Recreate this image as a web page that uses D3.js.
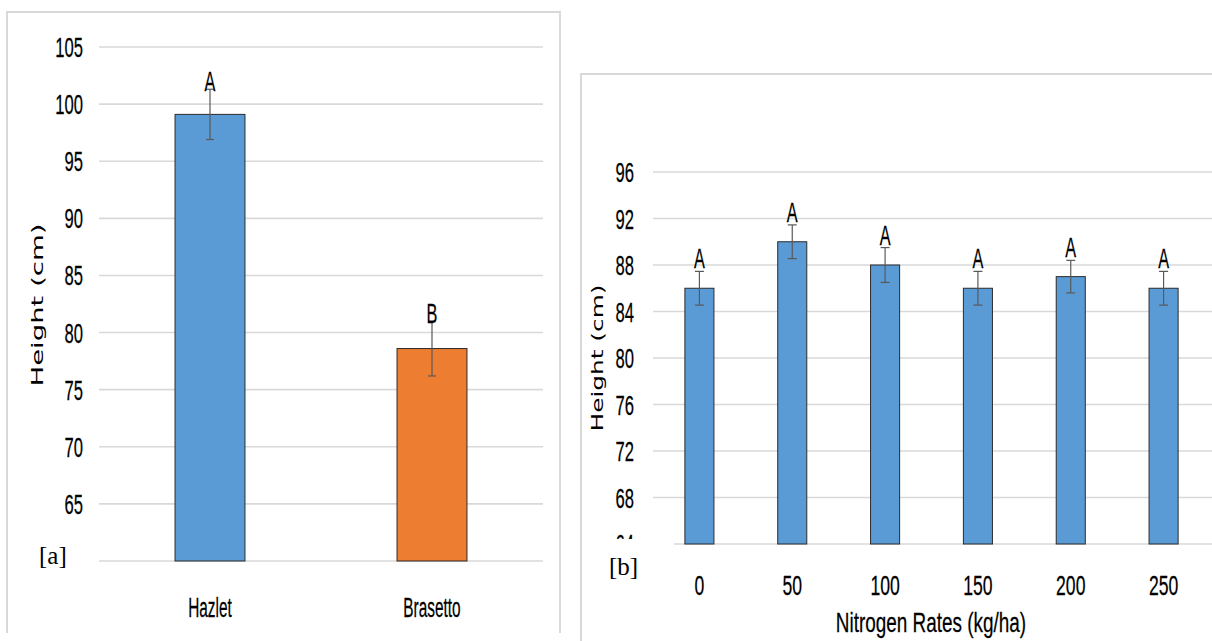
<!DOCTYPE html>
<html>
<head>
<meta charset="utf-8">
<script src="https://cdn.jsdelivr.net/npm/d3@7"></script>
<style>
  html, body { margin: 0; padding: 0; background: #fff; }
  svg { display: block; }
  text { fill: #000; }
  .title { font-family: "DejaVu Sans", Verdana, sans-serif; }
  .narrow { font-family: "Liberation Sans", Arial, sans-serif; stroke: #000; stroke-width: 0.2px; }
  .serif { font-family: "Liberation Serif", "Times New Roman", serif; }
</style>
</head>
<body>
<svg id="chart" width="1212" height="641"></svg>
<script>
// Panel [a]: plant height by variety
const varieties = ["Hazlet", "Brasetto"];
const varietyHeight = [99.1, 78.6];
const varietyErr = [2.2, 2.4];
const varietyLetters = ["A", "B"];
const varietyColors = ["#5B9BD5", "#ED7D31"];
const varietyTicks = [65, 70, 75, 80, 85, 90, 95, 100, 105];

// Panel [b]: plant height by nitrogen rate
const nRates = ["0", "50", "100", "150", "200", "250"];
const nHeight = [86, 90, 88, 86, 87, 86];
const nErr = [1.45, 1.45, 1.5, 1.45, 1.4, 1.45];
const nLetters = ["A", "A", "A", "A", "A", "A"];
const nTicks = [64, 68, 72, 76, 80, 84, 88, 92, 96];

const svg = d3.select("#chart");
const GRID = "#d9d9d9";
const ERR = "#595959";
const SX = 0.64; // horizontal squeeze of the tall narrow label face
const SY = 1.27; // vertical stretch of the same face

function narrowText(g, x, y, str, size, anchor, sx) {
  return g.append("text")
    .attr("class", "narrow")
    .attr("transform", `translate(${x},${y}) scale(${sx},${SY})`)
    .attr("font-size", size)
    .attr("text-anchor", anchor)
    .text(str);
}

function panel(cfg) {
  const g = svg.append("g");
  // frame
  g.append("path")
    .attr("d", cfg.frame)
    .attr("fill", "none").attr("stroke", GRID).attr("stroke-width", 2);

  const y = d3.scaleLinear().domain(cfg.yDomain).range([cfg.bottom, cfg.top]);
  const x = d3.scaleBand().domain(cfg.cats).range([cfg.left, cfg.right]).padding(0);
  const bw = x.bandwidth() * cfg.barRatio;

  // gridlines
  g.append("g").selectAll("line").data(cfg.ticks.filter(t => t !== cfg.yDomain[0]))
    .join("line")
    .attr("x1", cfg.left).attr("x2", cfg.gridEnd)
    .attr("y1", d => y(d)).attr("y2", d => y(d))
    .attr("stroke", GRID).attr("stroke-width", 1.6);
  // baseline
  g.append("line")
    .attr("x1", cfg.baseStart).attr("x2", cfg.gridEnd)
    .attr("y1", y(cfg.yDomain[0])).attr("y2", y(cfg.yDomain[0]))
    .attr("stroke", GRID).attr("stroke-width", 1.6);

  // tick labels
  const tl = g.append("g");
  if (cfg.clipId) {
    svg.append("clipPath").attr("id", cfg.clipId)
      .append("rect").attr("x", 0).attr("y", 0).attr("width", 1212).attr("height", cfg.clipBottom);
    tl.attr("clip-path", `url(#${cfg.clipId})`);
  }
  cfg.ticks.forEach(t => narrowText(tl, cfg.tickX, y(t) + 10, String(t), 22, "end", SX * 1.18));

  // bars
  g.append("g").selectAll("rect").data(cfg.values)
    .join("rect")
    .attr("x", (d, i) => x(cfg.cats[i]) + (x.bandwidth() - bw) / 2)
    .attr("width", bw)
    .attr("y", d => y(d))
    .attr("height", d => y(cfg.yDomain[0]) - y(d))
    .attr("fill", (d, i) => cfg.colors[i % cfg.colors.length])
    .attr("stroke", "#2b2b2b").attr("stroke-width", 1);

  // error bars
  const eb = g.append("g").attr("stroke", ERR).attr("stroke-width", 1.2);
  cfg.values.forEach((v, i) => {
    const cx = x(cfg.cats[i]) + x.bandwidth() / 2;
    const lo = y(v - cfg.errs[i]), hi = y(v + cfg.errs[i]);
    eb.append("line").attr("x1", cx).attr("x2", cx).attr("y1", lo).attr("y2", hi);
    eb.append("line").attr("x1", cx - cfg.cap).attr("x2", cx + cfg.cap).attr("y1", lo).attr("y2", lo);
    eb.append("line").attr("x1", cx - cfg.cap).attr("x2", cx + cfg.cap).attr("y1", hi).attr("y2", hi);
  });

  // significance letters
  cfg.values.forEach((v, i) => {
    const cx = x(cfg.cats[i]) + x.bandwidth() / 2;
    narrowText(g, cx, y(v + cfg.errs[i]) + cfg.letterDy, cfg.letters[i], 22, "middle", 0.74);
  });

  // category labels
  cfg.cats.forEach(c => {
    narrowText(g, x(c) + x.bandwidth() / 2, cfg.catY, c, 22, "middle", cfg.catSx);
  });

  // y title
  g.append("text")
    .attr("class", "title")
    .attr("transform", `translate(${cfg.yTitleX},${cfg.yTitleY}) rotate(-90)`)
    .attr("font-size", 16)
    .attr("text-anchor", "middle")
    .attr("textLength", cfg.yTitleLen)
    .attr("lengthAdjust", "spacingAndGlyphs")
    .text("Height (cm)");

  // panel tag
  g.append("text")
    .attr("class", "serif")
    .attr("x", cfg.tagX).attr("y", cfg.tagY)
    .attr("font-size", 25)
    .text(cfg.tag);

  return g;
}

panel({
  frame: "M7,633 V12 H560 V633",
  cats: varieties, values: varietyHeight, errs: varietyErr, letters: varietyLetters,
  colors: varietyColors, ticks: varietyTicks,
  yDomain: [60, 105], top: 47, bottom: 561,
  left: 99, right: 543, gridEnd: 543, baseStart: 99,
  barRatio: 0.315, cap: 4, letterDy: 2,
  tickX: 83, catY: 617, catSx: 0.7,
  yTitleX: 43, yTitleY: 305, yTitleLen: 163,
  tag: "[a]", tagX: 39, tagY: 564
});

const b = panel({
  frame: "M581,645 V74 H1215",
  cats: nRates, values: nHeight, errs: nErr, letters: nLetters,
  colors: ["#5B9BD5"], ticks: nTicks,
  yDomain: [64, 96], top: 172, bottom: 544,
  left: 653, right: 1210, gridEnd: 1212, baseStart: 674,
  barRatio: 0.313, cap: 4.5, letterDy: -3,
  tickX: 634, catY: 595, catSx: 0.8,
  yTitleX: 603, yTitleY: 358, yTitleLen: 147,
  tag: "[b]", tagX: 609, tagY: 575,
  clipId: "tickClipB", clipBottom: 539
});

narrowText(b, 931, 632, "Nitrogen Rates (kg/ha)", 22, "middle", 0.86);
</script>
</body>
</html>
